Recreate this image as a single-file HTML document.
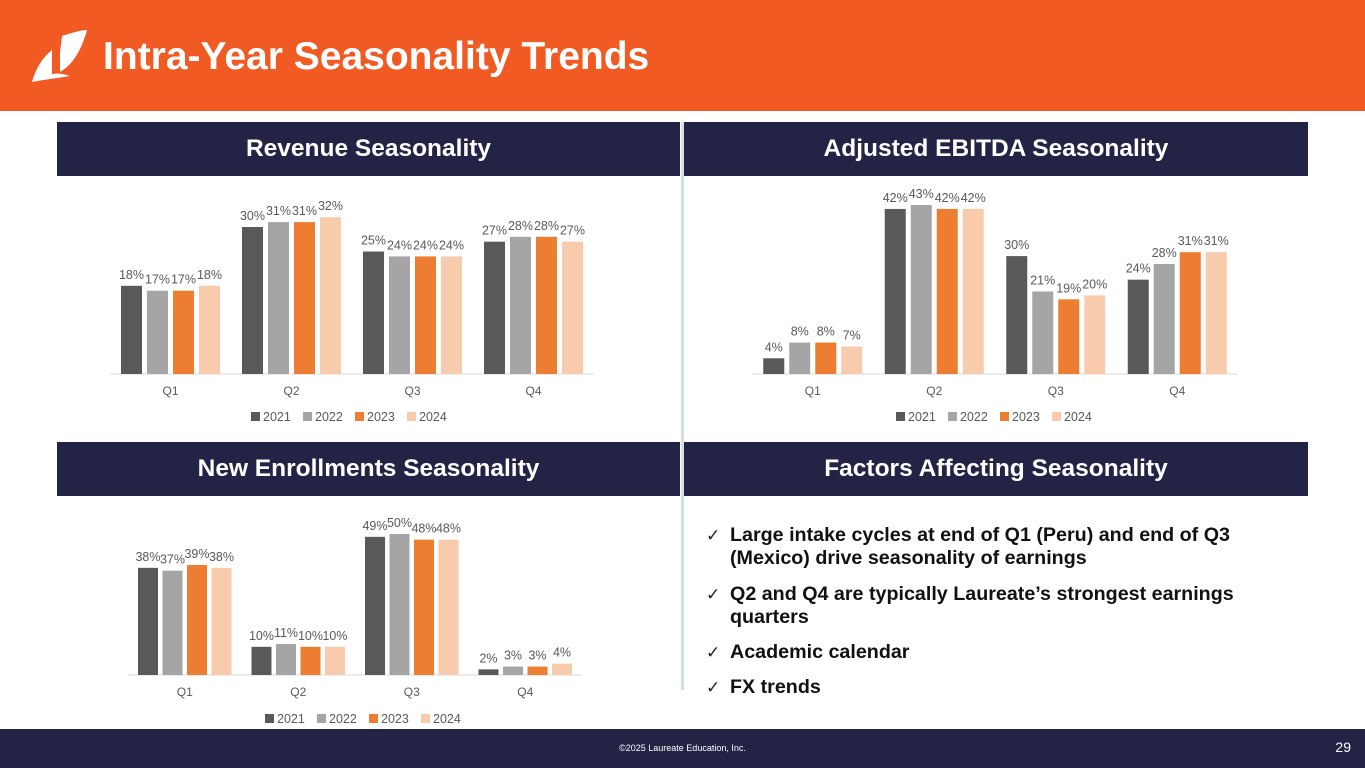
<!DOCTYPE html>
<html><head><meta charset="utf-8"><style>
body{margin:0;width:1365px;height:768px;position:relative;overflow:hidden;background:#fff;font-family:"Liberation Sans",Arial,sans-serif}
.hdr{position:absolute;left:0;top:0;width:1365px;height:111px;background:#F15A22}
.title{position:absolute;left:103px;top:35px;color:#fff;font-size:39px;font-weight:bold}
.ph{position:absolute;height:54px;background:#232346;color:#fff;font-weight:bold;font-size:24.5px;display:flex;align-items:center;justify-content:center}
.foot{position:absolute;left:0;top:729px;width:1365px;height:39px;background:#232346;color:#fff}
.bul{position:absolute;left:708px;font-size:19.7px;font-weight:bold;color:#111;line-height:23px}
.bul span{position:absolute;left:-2px;color:#222;font-weight:normal;font-size:17px}
.bul div{margin-left:22px}
</style></head><body>
<div class="hdr"></div>
<svg style="position:absolute;left:30px;top:28px" width="60" height="56"><path d="M32 8 C44 4 52 2 57 2 C52 20 44 36 30 44 L30 24 Z M22 22 L22 46 C28 45 34 46 40 48 C28 50 12 52 2 54 C6 40 12 30 22 22 Z" fill="#fff"/></svg>
<div class="title">Intra-Year Seasonality Trends</div>
<div style="position:absolute;left:681px;top:122px;width:3px;height:568px;background:#d5e0ee"></div>
<div class="ph" style="left:57px;top:122px;width:623px">Revenue Seasonality</div>
<div class="ph" style="left:684px;top:122px;width:624px">Adjusted EBITDA Seasonality</div>
<div class="ph" style="left:57px;top:442px;width:623px">New Enrollments Seasonality</div>
<div class="ph" style="left:684px;top:442px;width:624px">Factors Affecting Seasonality</div>
<svg id="c" style="position:absolute;left:0;top:0" width="1365" height="768"></svg>
<div class="bul" style="top:524px"><span>✓</span><div>Large intake cycles at end of Q1 (Peru) and end of Q3<br>(Mexico) drive seasonality of earnings</div></div>
<div class="bul" style="top:583px"><span>✓</span><div>Q2 and Q4 are typically Laureate’s strongest earnings<br>quarters</div></div>
<div class="bul" style="top:641px"><span>✓</span><div>Academic calendar</div></div>
<div class="bul" style="top:676px"><span>✓</span><div>FX trends</div></div>
<div class="foot"><div style="position:absolute;left:0;width:1365px;text-align:center;top:14px;font-size:9px">©2025 Laureate Education, Inc.</div><div style="position:absolute;right:14px;top:10px;font-size:14px">29</div></div>
<script>
const quarters=["Q1","Q2","Q3","Q4"];
const years=["2021","2022","2023","2024"];
const colors=["#595959","#a5a5a5","#ED7D31","#F8CBAD"];
const revenue2021=[18,30,25,27],revenue2022=[17,31,24,28],revenue2023=[17,31,24,28],revenue2024=[18,32,24,27];
const ebitda2021=[4,42,30,24],ebitda2022=[8,43,21,28],ebitda2023=[8,42,19,31],ebitda2024=[7,42,20,31];
const enroll2021=[38,10,49,2],enroll2022=[37,11,50,3],enroll2023=[39,10,48,3],enroll2024=[38,10,48,4];
const ns="http://www.w3.org/2000/svg",svg=document.getElementById('c');
function el(t,a,txt){const e=document.createElementNS(ns,t);for(const k in a)e.setAttribute(k,a[k]);if(txt!=null)e.textContent=txt;svg.appendChild(e);return e;}
function chart(name,series,x0,x1,base,pxPer,legY,legX,bw,gap){
  const gw=(x1-x0)/4;
  const ax=el('line',{x1:x0,x2:x1,y1:base,y2:base,stroke:'#d9d9d9'});
  
  
  quarters.forEach((q,i)=>{
    const cx=x0+gw*(i+0.5);
    const t=el('text',{x:cx,y:base+21,'text-anchor':'middle','font-size':12,fill:'#595959'},q);
    
    
    const total=4*bw+3*gap;
    series.forEach((s,j)=>{
      const v=s[i],bx=cx-total/2+j*(bw+gap),h=v*pxPer;
      const r=el('rect',{x:bx,y:base-h,width:bw,height:h,fill:colors[j]});
      
      
      const l=el('text',{x:bx+bw/2,y:base-h-7,'text-anchor':'middle','font-size':12.5,fill:'#595959'},v+'%');
      
      
    });
  });
  years.forEach((y,j)=>{
    const lx=legX+j*52;
    const r=el('rect',{x:lx,y:legY-9,width:9,height:9,fill:colors[j]});
    
    
    const t=el('text',{x:lx+12,y:legY,'font-size':12.5,fill:'#595959'},y);
    
    
  });
}
chart('revenue',[revenue2021,revenue2022,revenue2023,revenue2024],110,594,374,4.9,421,251,21,5);
chart('ebitda',[ebitda2021,ebitda2022,ebitda2023,ebitda2024],752,1238,374,3.93,421,896,21,5);
chart('enrollments',[enroll2021,enroll2022,enroll2023,enroll2024],128,582,675,2.82,723,265,20,4.5);
</script>
</body></html>
